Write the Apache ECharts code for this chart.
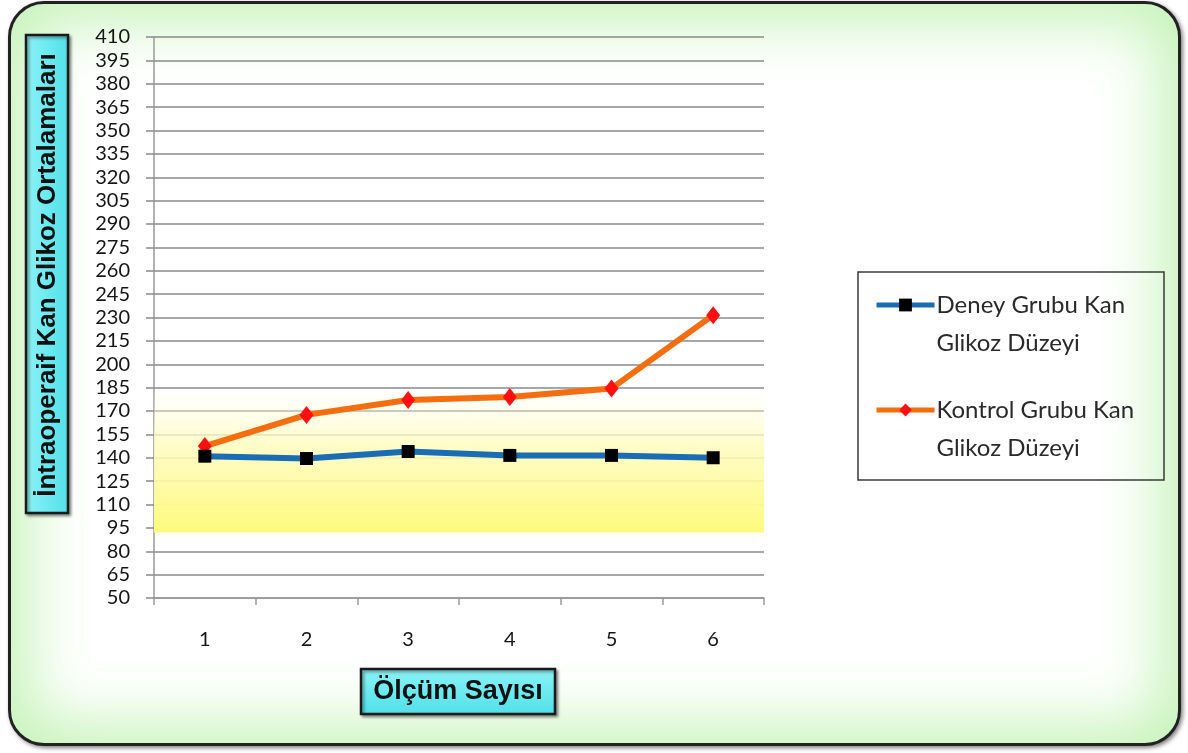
<!DOCTYPE html>
<html>
<head>
<meta charset="utf-8">
<script src="https://cdn.jsdelivr.net/npm/echarts@6/dist/echarts.min.js"></script>
<style>
  html, body { margin: 0; padding: 0; background: #ffffff; }
  #wrap { position: relative; width: 1188px; height: 753px; }
  #panel {
    position: absolute; left: 8px; top: 1px; width: 1173px; height: 745px;
    box-sizing: border-box;
    border: 3px solid #222222; border-radius: 36px;
    background: #ffffff;
    box-shadow: inset 0 0 64px 18px #c4f3b7, 2px 2px 4px rgba(0,0,0,0.5);
  }
  #chart { position: absolute; left: 0; top: 0; width: 1188px; height: 753px; }
</style>
</head>
<body>
<div id="wrap">
  <div id="panel"></div>
  <div id="chart"></div>
</div>
<script>
// Measurement number (x axis)
const categories = ['1', '2', '3', '4', '5', '6'];
// Mean intraoperative blood glucose per measurement
const deneyValues = [141, 139.5, 144, 141.5, 141.5, 140];
const kontrolValues = [147.5, 167.5, 177, 179, 184.5, 231.5];
// Y-axis tick labels
const yTicks = [50, 65, 80, 95, 110, 125, 140, 155, 170, 185, 200, 215, 230, 245, 260, 275, 290, 305, 320, 335, 350, 365, 380, 395, 410];
// Shaded normal-range band
const bandRange = [92, 183];

const seriesNames = ['Deney Grubu Kan\nGlikoz Düzeyi', 'Kontrol Grubu Kan\nGlikoz Düzeyi'];

const chart = echarts.init(document.getElementById('chart'), null, { renderer: 'canvas' });

const tickFont = { fontFamily: 'Lato, "Open Sans", sans-serif', fontSize: 20, color: '#151515' };

const titleFill = (dir) => ({
  type: 'linear', x: 0, y: 0, x2: dir === 'h' ? 1 : 0, y2: dir === 'h' ? 0 : 1,
  colorStops: [
    { offset: 0, color: '#8ff3f7' },
    { offset: 0.5, color: '#6ceaf0' },
    { offset: 1, color: '#52dfe8' }
  ]
});

chart.setOption({
  backgroundColor: 'transparent',
  animation: false,
  graphic: [
    // Y-axis title box
    {
      type: 'rect',
      z: 10,
      shape: { x: 26, y: 35, width: 42, height: 478 },
      style: {
        fill: titleFill('h'),
        stroke: '#1a1a1a',
        lineWidth: 2.5,
        shadowBlur: 3, shadowOffsetX: 2, shadowOffsetY: 2, shadowColor: 'rgba(0,0,0,0.4)'
      }
    },
    {
      type: 'text',
      z: 11,
      x: 48, y: 275,
      rotation: Math.PI / 2,
      style: {
        text: 'İntraoperaif Kan Glikoz Ortalamaları',
        font: 'bold 26px "Liberation Sans", Arial, sans-serif',
        fill: '#111111',
        align: 'center',
        verticalAlign: 'middle'
      }
    },
    // X-axis title box
    {
      type: 'rect',
      z: 10,
      shape: { x: 361, y: 669, width: 194, height: 45 },
      style: {
        fill: titleFill('v'),
        stroke: '#1a1a1a',
        lineWidth: 2.5,
        shadowBlur: 3, shadowOffsetX: 2, shadowOffsetY: 2, shadowColor: 'rgba(0,0,0,0.4)'
      }
    },
    {
      type: 'text',
      z: 11,
      x: 458, y: 692,
      style: {
        text: 'Ölçüm Sayısı',
        font: 'bold 27px "Liberation Sans", Arial, sans-serif',
        fill: '#111111',
        align: 'center',
        verticalAlign: 'middle'
      }
    },
    // Legend frame (unfilled)
    {
      type: 'rect',
      z: 5,
      shape: { x: 858, y: 272, width: 306, height: 208 },
      style: { fill: 'none', stroke: '#3a3a3a', lineWidth: 1.5 }
    }
  ],
  legend: {
    orient: 'vertical',
    left: 869,
    top: 243,
    z: 6,
    itemWidth: 58,
    itemHeight: 16,
    itemGap: -9,
    data: seriesNames,
    lineStyle: { width: 5 },
    // a blank leading line keeps the marker level with the first text line
    formatter: (name) => ' \n' + name,
    textStyle: {
      fontFamily: 'Lato, "Open Sans", sans-serif',
      fontSize: 24,
      color: '#2a2a2a',
      lineHeight: 38,
      padding: [0, 0, 0, -3]
    }
  },
  grid: { left: 154, right: 424, top: 37, bottom: 155 },
  xAxis: {
    type: 'category',
    data: categories,
    boundaryGap: true,
    axisLine: { lineStyle: { color: '#9a9a9a', width: 1.5 } },
    axisTick: { show: true, length: 7, lineStyle: { color: '#9a9a9a', width: 1.5 } },
    axisLabel: Object.assign({ margin: 32 }, tickFont),
    splitLine: { show: false }
  },
  yAxis: {
    type: 'value',
    min: 50,
    max: 410,
    axisLine: { show: true, lineStyle: { color: '#9a9a9a', width: 1.5 } },
    axisTick: { show: true, length: 8, customValues: yTicks, lineStyle: { color: '#8a8a8a', width: 1.5 } },
    axisLabel: Object.assign({ margin: 24, customValues: yTicks }, tickFont),
    splitLine: { show: true, lineStyle: { color: '#8a8a8a', width: 1.6 } }
  },
  series: [
    {
      name: seriesNames[0],
      type: 'line',
      data: deneyValues,
      z: 4,
      lineStyle: { color: '#1a6db4', width: 6 },
      itemStyle: { color: '#000000' },
      symbol: 'rect',
      symbolSize: 13,
      markArea: {
        silent: true,
        itemStyle: {
          color: {
            type: 'linear', x: 0, y: 0, x2: 0, y2: 1,
            colorStops: [
              { offset: 0, color: 'rgba(255,255,230,0.1)' },
              { offset: 0.35, color: 'rgba(255,252,195,0.85)' },
              { offset: 1, color: 'rgba(255,250,125,1)' }
            ]
          }
        },
        data: [[{ yAxis: bandRange[1] }, { yAxis: bandRange[0] }]]
      }
    },
    {
      name: seriesNames[1],
      type: 'line',
      data: kontrolValues,
      z: 3,
      lineStyle: { color: '#f46d0e', width: 6 },
      itemStyle: { color: '#ff1010' },
      symbol: 'diamond',
      symbolSize: [14, 18]
    }
  ]
});
</script>
</body>
</html>
